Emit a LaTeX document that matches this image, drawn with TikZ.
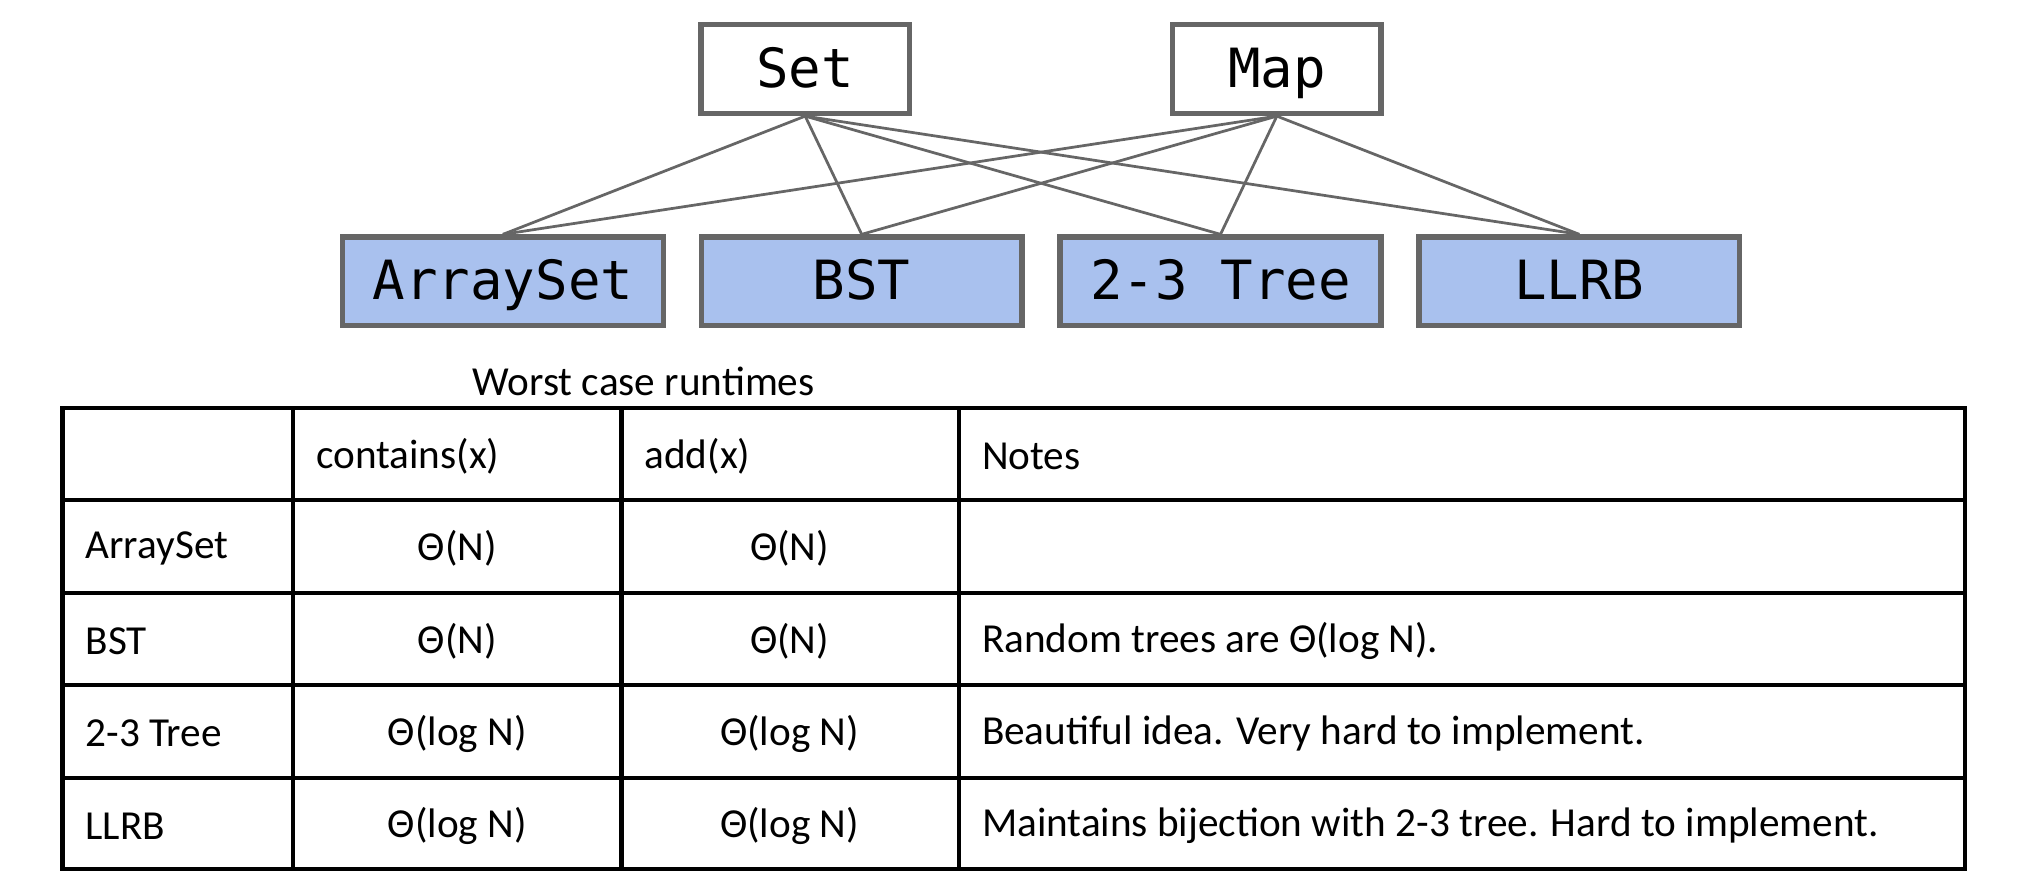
\documentclass[tikz,border=0pt]{standalone}
\usepackage{fontspec}
\setmainfont{Carlito}
\newfontfamily\codefont{DejaVu Sans Mono}
\usetikzlibrary{positioning}
\definecolor{implblue}{HTML}{A9C1EE}
\definecolor{boxgray}{HTML}{666666}
\tikzset{
  iface/.style={rectangle, draw=boxgray, line width=1.2pt, fill=white, minimum width=1.6cm, minimum height=0.68cm, text height=0.3cm, text depth=0.02cm, font=\codefont\fontsize{11.8}{13}\selectfont},
  impl/.style={iface, fill=implblue, minimum width=2.46cm},
  link/.style={draw=boxgray, line width=0.6pt},
  cell/.style={anchor=west, font=\fontsize{9}{11}\selectfont, inner sep=0pt},
  num/.style={font=\fontsize{9}{11}\selectfont, inner sep=0pt},
}
\begin{document}
\begin{tikzpicture}[x=0.01cm, y=-0.01cm]
        \useasboundingbox (0,0) rectangle (1555,682);
        % Interfaces
        \node (set) [iface] at (618,53) {Set};
        \node (map) [iface] at (980,53) {Map};
        % Implementations
        \node (arrayset) [impl] at (386,216) {ArraySet};
        \node (bst) [impl, right=0.25cm of arrayset] {BST};
        \node (tree) [impl, right=0.25cm of bst] {2-3 Tree};
        \node (llrb) [impl, right=0.25cm of tree] {LLRB};
        % Connectors
        \foreach \src in {set, map}{
            \draw[link] (\src.south) -- (arrayset.north);
            \draw[link] (\src.south) -- (bst.north);
            \draw[link] (\src.south) -- (tree.north);
            \draw[link] (\src.south) -- (llrb.north);
        }
        % Table
        \node (caption) [num] at (494,293) {Worst case runtimes};
        \draw[line width=0.9pt] (48,313) rectangle (1508,667);
        \foreach \y in {384,455,526,597} \draw[line width=0.9pt] (48,\y) -- (1508,\y);
        \foreach \x in {225,477,736} \draw[line width=0.9pt] (\x,313) -- (\x,667);
        \node (hcont) [cell] at (242,350) {contains(x)};
        \node (hadd) [cell] at (494,350) {add(x)};
        \node (hnotes) [cell] at (753,350) {Notes};
        \node (rarr) [cell] at (65,421) {ArraySet};
        \node (rbst) [cell] at (65,492) {BST};
        \node (rtree) [cell] at (65,563) {2-3 Tree};
        \node (rllrb) [cell] at (65,634) {LLRB};
        \node [num] at (351,421) {Θ(N)};
        \node [num] at (606,421) {Θ(N)};
        \node [num] at (351,492) {Θ(N)};
        \node [num] at (606,492) {Θ(N)};
        \node [num] at (351,563) {Θ(log N)};
        \node [num] at (606,563) {Θ(log N)};
        \node [num] at (351,634) {Θ(log N)};
        \node [num] at (606,634) {Θ(log N)};
        \node [cell] at (753,492) {Random trees are Θ(log N).};
        \node [cell] at (753,563) {Beautiful idea. Very hard to implement.};
        \node [cell] at (753,634) {Maintains bijection with 2-3 tree. Hard to implement.};
\end{tikzpicture}
\end{document}
